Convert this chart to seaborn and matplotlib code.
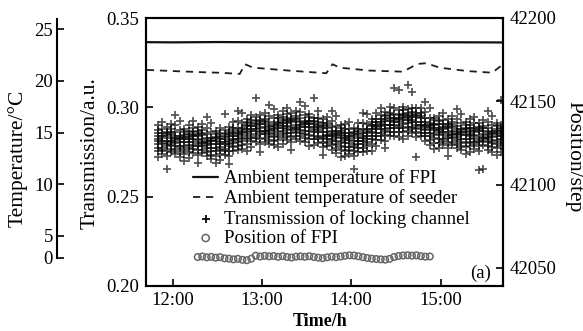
import numpy as np
import pandas as pd
import matplotlib
matplotlib.use("Agg")
import matplotlib.pyplot as plt
import seaborn as sns

# ---------------- data ----------------
# FPI ambient temperature (solid line), degC
fpi_temp_time = [11.70, 12.00, 12.50, 13.00, 13.50, 14.00, 14.50, 15.00, 15.50, 15.70]
fpi_temp = [23.75, 23.73, 23.76, 23.74, 23.73, 23.72, 23.73, 23.74, 23.73, 23.72]

# seeder ambient temperature (dashed line), degC
seeder_temp_time = [11.71, 12.00, 12.30, 12.55, 12.75, 12.81, 12.90, 13.31, 13.72, 13.79,
                    13.87, 14.20, 14.58, 14.74, 14.84, 14.99, 15.30, 15.58, 15.69]
seeder_temp = [21.06, 20.95, 20.85, 20.78, 20.67, 21.61, 21.28, 20.99, 20.74, 21.61,
               21.28, 21.00, 20.89, 21.64, 21.71, 21.28, 20.95, 20.79, 21.54]

# transmission of locking channel: sample times (h) and the values (x1e-4 a.u.) at each time
trans_time = [11.83, 11.88, 11.93, 11.98, 12.03, 12.08, 12.13, 12.18, 12.23, 12.28,
              12.33, 12.38, 12.43, 12.48, 12.53, 12.58, 12.63, 12.68, 12.73, 12.78,
              12.83, 12.88, 12.93, 12.98, 13.03, 13.08, 13.13, 13.18, 13.23, 13.28,
              13.33, 13.38, 13.43, 13.48, 13.53, 13.58, 13.63, 13.68, 13.73, 13.78,
              13.83, 13.88, 13.93, 13.98, 14.03, 14.08, 14.13, 14.18, 14.23, 14.28,
              14.33, 14.38, 14.43, 14.48, 14.53, 14.58, 14.63, 14.68, 14.73, 14.78,
              14.83, 14.88, 14.93, 14.98, 15.03, 15.08, 15.13, 15.18, 15.23, 15.28,
              15.33, 15.38, 15.43, 15.48, 15.53, 15.58, 15.63, 15.68]
trans_x1e4 = [
    [2753, 2794, 2823, 2854, 2720, 2871, 2811, 2902, 2837, 2774],
    [2854, 2737, 2829, 2774, 2916, 2798, 2878, 2760, 2813, 2839],
    [2781, 2839, 2728, 2814, 2863, 2655, 2888, 2793, 2850, 2757],
    [2828, 2767, 2877, 2806, 2748, 2848, 2909, 2789, 2810, 2864],
    [2801, 2899, 2763, 2842, 2785, 2957, 2739, 2864, 2827, 2816],
    [2872, 2806, 2721, 2842, 2821, 2770, 2924, 2784, 2748, 2829],
    [2763, 2823, 2843, 2738, 2879, 2784, 2807, 2863, 2700, 2836],
    [2750, 2791, 2820, 2851, 2717, 2868, 2808, 2899, 2834, 2771],
    [2862, 2745, 2837, 2782, 2924, 2806, 2886, 2768, 2821, 2847],
    [2784, 2842, 2731, 2817, 2866, 2687, 2891, 2796, 2853, 2760],
    [2823, 2762, 2872, 2801, 2743, 2843, 2904, 2784, 2805, 2859],
    [2788, 2886, 2750, 2829, 2772, 2944, 2726, 2851, 2814, 2803],
    [2860, 2794, 2709, 2830, 2809, 2758, 2912, 2772, 2736, 2817],
    [2753, 2813, 2833, 2728, 2869, 2774, 2797, 2853, 2690, 2826],
    [2738, 2779, 2808, 2839, 2705, 2856, 2796, 2887, 2822, 2759],
    [2849, 2732, 2824, 2769, 2965, 2793, 2873, 2755, 2808, 2834],
    [2781, 2839, 2728, 2814, 2863, 2684, 2888, 2793, 2850, 2757],
    [2838, 2777, 2887, 2816, 2758, 2858, 2919, 2799, 2820, 2874],
    [2823, 2921, 2785, 2864, 2807, 2979, 2761, 2886, 2849, 2838],
    [2915, 2849, 2764, 2885, 2864, 2813, 2967, 2827, 2791, 2872],
    [2820, 2880, 2900, 2795, 2936, 2841, 2864, 2920, 2757, 2893],
    [2810, 2851, 2880, 2911, 2777, 2928, 2868, 2959, 2894, 2831],
    [2922, 2805, 2897, 2842, 3055, 2866, 2946, 2828, 2881, 2907],
    [2849, 2907, 2796, 2882, 2931, 2752, 2956, 2861, 2918, 2825],
    [2888, 2827, 2937, 2866, 2808, 2908, 2969, 2849, 2870, 2924],
    [2855, 2953, 2817, 2896, 2839, 3011, 2793, 2918, 2881, 2870],
    [2938, 2872, 2787, 2908, 2887, 2836, 2990, 2850, 2814, 2895],
    [2840, 2900, 2920, 2815, 2956, 2861, 2884, 2940, 2777, 2913],
    [2828, 2869, 2898, 2929, 2795, 2946, 2886, 2977, 2912, 2849],
    [2936, 2819, 2911, 2856, 2998, 2880, 2960, 2842, 2895, 2921],
    [2859, 2917, 2806, 2892, 2941, 2762, 2966, 2871, 2928, 2835],
    [2901, 2840, 2950, 2879, 2821, 2921, 2982, 2862, 2883, 2937],
    [2875, 2973, 2837, 2916, 2859, 3031, 2813, 2938, 2901, 2890],
    [2955, 2889, 2804, 2925, 2904, 2853, 3007, 2867, 2831, 2912],
    [2845, 2905, 2925, 2820, 2961, 2866, 2889, 2945, 2782, 2918],
    [2820, 2861, 2890, 2921, 2787, 2938, 2878, 3050, 2904, 2841],
    [2916, 2799, 2891, 2836, 2978, 2860, 2940, 2822, 2875, 2901],
    [2829, 2887, 2776, 2862, 2911, 2732, 2936, 2841, 2898, 2805],
    [2863, 2802, 2912, 2841, 2783, 2883, 2944, 2824, 2845, 2899],
    [2825, 2923, 2787, 2866, 2809, 2981, 2763, 2888, 2851, 2840],
    [2898, 2832, 2747, 2868, 2847, 2796, 2950, 2810, 2774, 2855],
    [2785, 2845, 2865, 2760, 2901, 2806, 2829, 2885, 2722, 2858],
    [2758, 2799, 2828, 2859, 2725, 2876, 2816, 2907, 2842, 2779],
    [2856, 2739, 2831, 2776, 2918, 2800, 2880, 2762, 2815, 2841],
    [2779, 2837, 2726, 2812, 2861, 2655, 2886, 2791, 2848, 2755],
    [2831, 2770, 2880, 2809, 2751, 2851, 2912, 2792, 2813, 2867],
    [2813, 2911, 2775, 2854, 2797, 2969, 2751, 2876, 2839, 2828],
    [2908, 2842, 2757, 2878, 2857, 2806, 2960, 2820, 2784, 2865],
    [2820, 2880, 2900, 2795, 2936, 2841, 2864, 2920, 2757, 2893],
    [2818, 2859, 2888, 2919, 2785, 2936, 2876, 2967, 2902, 2839],
    [2934, 2817, 2909, 2854, 2996, 2878, 2958, 2840, 2893, 2919],
    [2867, 2925, 2814, 2900, 2949, 2770, 2974, 2879, 2936, 2843],
    [2921, 2860, 2970, 2899, 2841, 2941, 3002, 2882, 2903, 2957],
    [2901, 2999, 2863, 2942, 2885, 3110, 2839, 2964, 2927, 2916],
    [2985, 2919, 2834, 2955, 2934, 2883, 3095, 2897, 2861, 2942],
    [2885, 2945, 2965, 2860, 3001, 2906, 2929, 2985, 2822, 2958],
    [2870, 2911, 2940, 2971, 2837, 2988, 2928, 3125, 2954, 2891],
    [2972, 2855, 2947, 2892, 3085, 2916, 2996, 2878, 2931, 2957],
    [2887, 2945, 2834, 2920, 2969, 2722, 2994, 2899, 2956, 2863],
    [2918, 2857, 2967, 2896, 2838, 2938, 2999, 2879, 2900, 2954],
    [2875, 2973, 2837, 2916, 2859, 3031, 2813, 2938, 2901, 2890],
    [2942, 2876, 2791, 2912, 2891, 2840, 2994, 2854, 2818, 2899],
    [2827, 2887, 2907, 2802, 2943, 2848, 2871, 2927, 2764, 2900],
    [2803, 2844, 2873, 2904, 2770, 2921, 2861, 2952, 2887, 2824],
    [2904, 2787, 2879, 2824, 2966, 2848, 2928, 2810, 2863, 2889],
    [2827, 2885, 2774, 2860, 2909, 2730, 2934, 2839, 2896, 2803],
    [2868, 2807, 2917, 2846, 2788, 2888, 2949, 2829, 2850, 2904],
    [2835, 2933, 2797, 2876, 2819, 2991, 2773, 2898, 2861, 2850],
    [2910, 2844, 2759, 2880, 2859, 2808, 2962, 2822, 2786, 2867],
    [2803, 2863, 2883, 2778, 2919, 2824, 2847, 2903, 2740, 2876],
    [2783, 2824, 2853, 2884, 2750, 2901, 2841, 2932, 2867, 2804],
    [2886, 2769, 2861, 2806, 2948, 2830, 2910, 2792, 2845, 2871],
    [2807, 2865, 2754, 2840, 2889, 2652, 2914, 2819, 2876, 2783],
    [2848, 2787, 2897, 2826, 2655, 2868, 2929, 2809, 2830, 2884],
    [2821, 2919, 2783, 2862, 2805, 2977, 2759, 2884, 2847, 2836],
    [2900, 2834, 2749, 2870, 2849, 2798, 2952, 2812, 2776, 2857],
    [2797, 2857, 2877, 2772, 2913, 2818, 2841, 2897, 2734, 2870],
    [2783, 2824, 2853, 2884, 2750, 2901, 2841, 3040, 2867, 2804],
]

# position of FPI (steps)
pos_time = [12.28, 12.33, 12.38, 12.43, 12.48, 12.53, 12.58, 12.63, 12.68, 12.73,
            12.78, 12.83, 12.88, 12.93, 12.98, 13.03, 13.08, 13.13, 13.18, 13.23,
            13.28, 13.33, 13.38, 13.43, 13.48, 13.53, 13.58, 13.63, 13.68, 13.73,
            13.78, 13.83, 13.88, 13.93, 13.98, 14.03, 14.08, 14.13, 14.18, 14.23,
            14.28, 14.33, 14.38, 14.43, 14.48, 14.53, 14.58, 14.63, 14.68, 14.73,
            14.78, 14.83, 14.88]
pos_step = [42056.6, 42056.9, 42056.4, 42056.7, 42056.2, 42056.5, 42055.8, 42055.6, 42055.2, 42055.5,
            42054.9, 42054.7, 42055.6, 42057.4, 42056.9, 42057.3, 42057.0, 42057.2, 42056.7, 42057.1,
            42056.6, 42056.3, 42056.8, 42057.0, 42056.7, 42057.1, 42056.6, 42056.2, 42055.9, 42056.4,
            42056.8, 42056.5, 42056.9, 42057.3, 42057.6, 42057.5, 42057.0, 42056.5, 42056.0, 42055.6,
            42055.4, 42055.2, 42055.0, 42055.5, 42056.6, 42057.2, 42057.5, 42057.7, 42057.4, 42057.6,
            42057.1, 42056.8, 42056.9]

x_ticks = [12, 13, 14, 15]
x_ticklabels = ["12:00", "13:00", "14:00", "15:00"]
trans_ticks = [0.20, 0.25, 0.30, 0.35]
pos_ticks = [42050, 42100, 42150, 42200]
temp_tick_labels = ["0", "5", "10", "15", "20", "25"]

labels = ["Ambient temperature of FPI", "Ambient temperature of seeder",
          "Transmission of locking channel", "Position of FPI"]

# ---------------- build tables ----------------
df_fpi = pd.DataFrame({"t": fpi_temp_time, "T": fpi_temp})
df_seed = pd.DataFrame({"t": seeder_temp_time, "T": seeder_temp})
df_trans = pd.DataFrame({
    "t": np.repeat(trans_time, [len(r) for r in trans_x1e4]),
    "tr": np.concatenate([np.asarray(r, float) for r in trans_x1e4]) / 1e4,
})
df_pos = pd.DataFrame({"t": pos_time, "p": pos_step})

# ---------------- style ----------------
sns.set_theme(style="ticks")
plt.rcParams["font.family"] = ["Liberation Serif", "DejaVu Serif"]
plt.rcParams["text.color"] = "black"
plt.rcParams["axes.labelcolor"] = "black"

W, H = 583, 331
fig = plt.figure(figsize=(W / 100, H / 100), dpi=100)
fig.patch.set_facecolor("white")

def fx(px):
    return px / W

def fy(py):
    return 1 - py / H

L, R, T, B = 146, 503, 18, 286
ax = fig.add_axes([fx(L), fy(B), (R - L) / W, (B - T) / H])
ax.set_facecolor("white")
ax_pos = ax.twinx()
ax_tmp = ax.twinx()

TICK_FS = 13.5
spine_lw = 1.5

# transmission scatter
sns.scatterplot(data=df_trans, x="t", y="tr", ax=ax, marker="+", s=34,
                color="black", alpha=0.68, linewidth=1.25, label=labels[2], legend=False)
# position of FPI
sns.scatterplot(data=df_pos, x="t", y="p", ax=ax_pos, marker="o", s=22,
                facecolor="none", edgecolor="#666666", linewidth=1.1, label=labels[3], legend=False)
# temperatures
sns.lineplot(data=df_fpi, x="t", y="T", ax=ax_tmp, color="#111111", linewidth=1.6,
             label=labels[0], legend=False)
sns.lineplot(data=df_seed, x="t", y="T", ax=ax_tmp, color="#1e1e1e", linewidth=1.3,
             label=labels[1], legend=False)
ax_tmp.lines[-1].set_dashes((4, 3.2))

for a in (ax, ax_pos, ax_tmp):
    lg = a.get_legend()
    if lg is not None:
        lg.remove()

ax.set_xlim(11.70, 15.70)
ax.set_ylim(0.20, 0.35)
ax_pos.set_ylim(42039.2, 42200)
ax_tmp.set_ylim(0.13, 26.09)

ax.set_xticks(x_ticks)
ax.set_xticklabels(x_ticklabels)
ax.set_yticks(trans_ticks)
ax.set_yticklabels([f"{v:.2f}" for v in trans_ticks])
ax_pos.set_yticks(pos_ticks)
ax_pos.set_yticklabels([str(v) for v in pos_ticks])
ax_tmp.set_yticks([])
ax_tmp.axis("off")

for a in (ax, ax_pos):
    a.set_xlabel("")
    a.set_ylabel("")
    for s in a.spines.values():
        s.set_linewidth(spine_lw)
        s.set_color("black")
        s.set_visible(True)
ax.tick_params(axis="both", direction="in", length=5, width=1.2, labelsize=TICK_FS,
               colors="black", pad=4)
ax.tick_params(axis="y", pad=5)
ax_pos.tick_params(axis="y", direction="in", length=5, width=1.2, labelsize=TICK_FS,
                   colors="black", pad=5)

# outer temperature axis
ax_T = fig.add_axes([fx(57), fy(258), 0.0001, (258 - 19) / H])
ax_T.set_ylim(2.84, 26.0)
ax_T.set_xticks([])
ax_T.set_yticks([2.84, 5, 10, 15, 20, 25])
ax_T.set_yticklabels(temp_tick_labels)
for k, s in ax_T.spines.items():
    s.set_visible(k == "left")
ax_T.spines["left"].set_linewidth(spine_lw)
ax_T.spines["left"].set_color("black")
ax_T.patch.set_visible(False)
ax_T.tick_params(axis="y", direction="in", length=5, width=1.2, labelsize=TICK_FS,
                 colors="black", pad=3)

# axis labels
fig.text(fx(18), fy(158), "Temperature/°C", rotation=90, ha="center", va="center", fontsize=15.5)
fig.text(fx(90), fy(153), "Transmission/a.u.", rotation=90, ha="center", va="center", fontsize=15.5)
fig.text(fx(574), fy(157), "Position/step", rotation=270, ha="center", va="center", fontsize=15.5)
fig.text(fx(320), fy(322), "Time/h", ha="center", va="center", fontsize=13, fontweight="bold")
ax.text(0.936, 0.048, "(a)", transform=ax.transAxes, ha="center", va="center", fontsize=13.5)

# legend
handles = [ax_tmp.lines[0], ax_tmp.lines[1], ax.collections[0], ax_pos.collections[0]]
leg = ax_tmp.legend(handles, labels, loc="upper left", bbox_to_anchor=(0.1317, 0.435),
                    frameon=False, fontsize=13.5, handlelength=1.35, handletextpad=0.3,
                    labelspacing=0.12, borderpad=0, borderaxespad=0, markerscale=1.1)
for h in leg.legend_handles:
    h.set_alpha(1)
for txt in leg.get_texts():
    txt.set_color("black")
leg.set_zorder(10)

fig.savefig("out.png", dpi=100, facecolor="white")
